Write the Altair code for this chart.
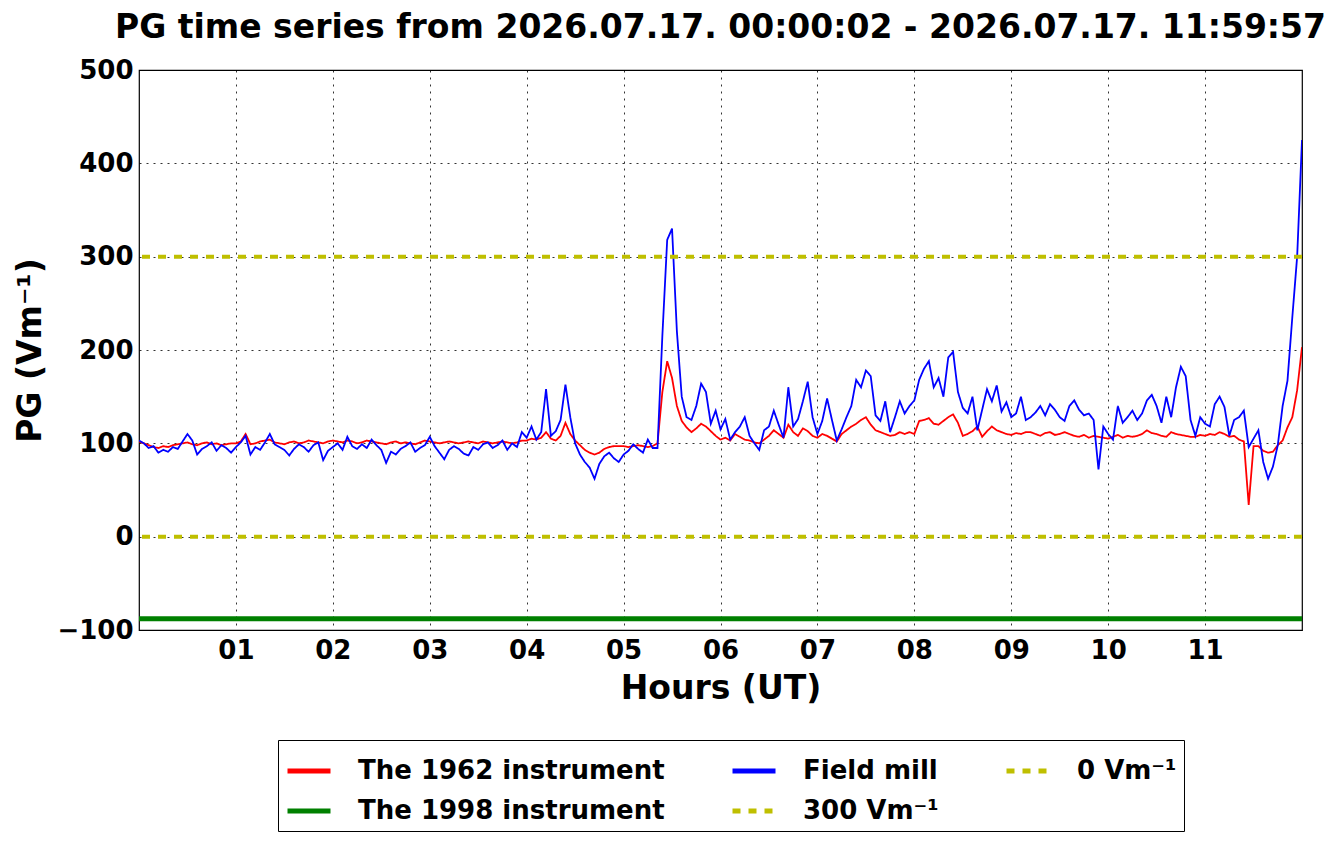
import altair as alt
import pandas as pd

STEP_H = 0.05

FIELD_MILL = [
    103, 100, 95, 97, 90, 93, 91, 96, 94, 102, 110, 103, 88, 94, 97, 101, 92, 98, 95, 90,
    96, 101, 108, 88, 96, 93, 101, 110, 99, 96, 93, 87, 94, 99, 96, 91, 98, 101, 82, 92,
    96, 100, 93, 107, 97, 94, 99, 95, 104, 98, 93, 79, 91, 88, 94, 97, 101, 91, 95, 98,
    107, 97, 90, 83, 93, 97, 94, 89, 87, 96, 93, 99, 101, 95, 98, 103, 93, 100, 96, 112,
    106, 118, 104, 112, 158, 108, 113, 125, 163, 128, 100, 88, 80, 74, 62, 78, 86, 90, 84, 80,
    88, 92, 99, 94, 90, 104, 95, 95, 215, 318, 330, 220, 150, 128, 125, 140, 164, 155, 121, 135,
    115, 126, 104, 112, 118, 128, 108, 100, 93, 114, 118, 135, 120, 106, 160, 118, 126, 145, 166, 128,
    110, 124, 148, 125, 103, 115, 128, 140, 168, 160, 178, 172, 130, 124, 145, 112, 128, 145, 132, 140,
    146, 168, 180, 188, 160, 170, 150, 192, 198, 155, 138, 132, 150, 114, 136, 158, 145, 162, 134, 144,
    128, 132, 150, 125, 128, 133, 140, 130, 142, 136, 128, 124, 140, 146, 136, 130, 132, 125, 72, 118,
    110, 104, 140, 122, 128, 135, 125, 132, 146, 152, 140, 122, 150, 128, 160, 182, 172, 125, 108, 128,
    121, 118, 142, 150, 139, 108, 125, 128, 135, 96, 105, 114, 80, 62, 75, 98, 140, 167, 235, 300,
    425,
]

INSTR_1962 = [
    102, 100, 98, 96, 95, 97, 96, 98, 99, 100, 101, 99, 98, 100, 101, 99, 100, 98, 99, 100,
    100, 102, 110, 99, 100, 102, 103, 104, 101, 100, 99, 101, 102, 100, 101, 103, 102, 101, 100, 102,
    103, 102, 101, 103, 102, 100, 101, 103, 102, 101, 100, 99, 101, 102, 100, 101, 100, 99, 101, 103,
    102, 101, 100, 101, 102, 101, 100, 101, 102, 101, 100, 102, 101, 100, 101, 102, 101, 100, 101, 103,
    103, 105, 104, 106, 112, 105, 103, 108, 122, 110, 103, 98, 93, 90, 88, 90, 94, 96, 97, 97,
    97, 96, 97, 98, 97, 96, 97, 100, 155, 188, 170, 140, 124, 117, 112, 116, 121, 118, 113, 108,
    104, 106, 103, 110, 107, 104, 103, 101, 100, 104, 108, 114, 110, 106, 120, 112, 108, 116, 113, 108,
    106, 110, 108, 105, 102, 110, 114, 118, 121, 125, 128, 120, 114, 112, 110, 108, 109, 112, 110, 112,
    110, 124, 125, 127, 121, 120, 124, 128, 131, 122, 108, 110, 113, 118, 107, 113, 118, 114, 112, 110,
    109, 111, 110, 112, 112, 110, 108, 111, 112, 109, 110, 112, 110, 108, 107, 109, 106, 108, 107, 106,
    105, 107, 109, 106, 108, 107, 108, 110, 114, 111, 110, 108, 107, 112, 110, 109, 108, 107, 107, 109,
    108, 110, 109, 112, 110, 107, 108, 104, 102, 34, 97, 97, 92, 90, 91, 98, 103, 117, 128, 157,
    203,
]

INSTR_1998_LEVEL = -88
REF_LEVELS = [300, 0]

S1962 = "The 1962 instrument"
S1998 = "The 1998 instrument"
SMILL = "Field mill"
S300 = "300 Vm⁻¹"
S0 = "0 Vm⁻¹"

X_TICKS = list(range(1, 12))
Y_TICKS = [-100, 0, 100, 200, 300, 400, 500]

TITLE = "PG time series from 2026.07.17. 00:00:02 - 2026.07.17. 11:59:57"

# ---- tables ----
hours = [round(i * STEP_H, 4) for i in range(len(FIELD_MILL))]
red_df = pd.DataFrame({"hour": hours, "value": INSTR_1962, "series": S1962})
blue_df = pd.DataFrame({"hour": hours, "value": FIELD_MILL, "series": SMILL})
green_df = pd.DataFrame({"value": [INSTR_1998_LEVEL], "series": [S1998]})
ref_df = pd.DataFrame({"value": REF_LEVELS, "series": [S300, S0]})

# legend fills column-major with 3 columns
domain = [S1962, S1998, SMILL, S300, S0]
colors = ["#ff0000", "#008000", "#0000ff", "#bfbf00", "#bfbf00"]
dashes = [[1, 0], [1, 0], [1, 0], [8, 8], [8, 8]]

color_enc = alt.Color("series:N", scale=alt.Scale(domain=domain, range=colors),
                      legend=alt.Legend(title=None))
dash_enc = alt.StrokeDash("series:N", scale=alt.Scale(domain=domain, range=dashes),
                          legend=alt.Legend(title=None))

FONT = "DejaVu Sans"

x_scale = alt.Scale(domain=[0, 12], nice=False, zero=False)
y_scale = alt.Scale(domain=[-100, 500], nice=False)

x_axis = alt.Axis(
    values=X_TICKS,
    labelExpr="datum.value < 10 ? '0' + datum.value : '' + datum.value",
    title="Hours (UT)",
    grid=True, ticks=False,
    labelPadding=7, titleY=68, titleBaseline="alphabetic",
)
y_axis = alt.Axis(
    values=Y_TICKS,
    title="PG (Vm⁻¹)",
    grid=True, ticks=False,
    labelPadding=6,
    titleX=-99, titleY=280, titleAngle=-90, titleAlign="center",
    titleBaseline="alphabetic",
)

base_x = alt.X("hour:Q", scale=x_scale, axis=x_axis)
base_y = alt.Y("value:Q", scale=y_scale, axis=y_axis)

red_line = alt.Chart(red_df).mark_line(strokeWidth=1.8, clip=True).encode(
    x=base_x, y=base_y, color=color_enc, strokeDash=dash_enc,
)
green = alt.Chart(green_df).mark_rule(strokeWidth=5).encode(
    y=alt.Y("value:Q", scale=y_scale), color=color_enc, strokeDash=dash_enc,
)
blue_line = alt.Chart(blue_df).mark_line(strokeWidth=1.8, clip=True).encode(
    x=base_x, y=base_y, color=color_enc, strokeDash=dash_enc,
)
refs = alt.Chart(ref_df).mark_rule(strokeWidth=4).encode(
    y=alt.Y("value:Q", scale=y_scale), color=color_enc, strokeDash=dash_enc,
)

chart = alt.layer(red_line, green, blue_line, refs).properties(
    width=1163, height=560,
    title=alt.TitleParams(TITLE, fontSize=33, fontWeight="bold", font=FONT,
                          anchor="middle", offset=12, color="black"),
    autosize=alt.AutoSizeParams(type="none"),
    padding={"left": 131, "top": 62, "right": 31, "bottom": 210},
).configure_view(
    stroke="black", strokeWidth=1.2,
).configure_axis(
    labelFont=FONT, labelFontSize=26, labelFontWeight="bold", labelColor="black",
    titleFont=FONT, titleFontSize=33, titleFontWeight="bold", titleColor="black",
    gridColor="black", gridDash=[2, 5], gridWidth=1, gridOpacity=0.8,
    domain=False,
).configure_legend(
    orient="none", legendX=139, legendY=670, columns=3,
    labelFont=FONT, labelFontSize=26, labelFontWeight="bold", labelColor="black",
    labelLimit=600, symbolType="stroke", symbolSize=1849, symbolStrokeWidth=5,
    labelOffset=25, columnPadding=57, rowPadding=3, padding=7,
    strokeColor="black", fillColor="white", cornerRadius=0,
)

chart.save("out.html", embed_options={"renderer": "svg", "actions": False})
